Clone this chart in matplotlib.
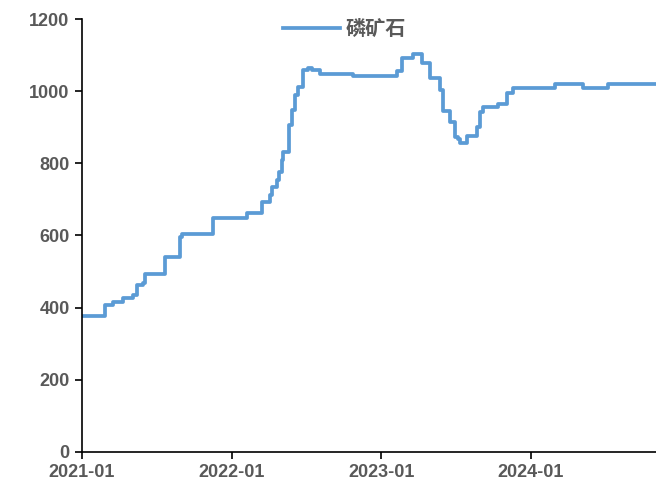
import pandas as pd
import matplotlib.pyplot as plt
import matplotlib.dates as mdates

plt.rcParams['font.family'] = ['Liberation Sans', 'DejaVu Sans']

# 磷矿石 price (yuan/t), step changes
dates = ['2021-01-01', '2021-02-26', '2021-03-17', '2021-04-11', '2021-05-05',
         '2021-05-15', '2021-05-30', '2021-06-04', '2021-07-22', '2021-08-28',
         '2021-09-02', '2021-11-16', '2022-02-07', '2022-03-16', '2022-04-04',
         '2022-04-09', '2022-04-21', '2022-04-26', '2022-05-04', '2022-05-06',
         '2022-05-21', '2022-05-28', '2022-06-04', '2022-06-12', '2022-06-24',
         '2022-07-06', '2022-07-16', '2022-08-04', '2022-10-24', '2023-02-08',
         '2023-02-20', '2023-03-19', '2023-04-10', '2023-04-29', '2023-05-24',
         '2023-05-31', '2023-06-17', '2023-06-29', '2023-07-07', '2023-07-12',
         '2023-07-29', '2023-08-22', '2023-08-29', '2023-09-06', '2023-10-12',
         '2023-11-03', '2023-11-18', '2024-02-28', '2024-05-07', '2024-07-07',
         '2024-11-01']
prices = [377, 407, 416, 426, 435,
          463, 468, 493, 540, 595,
          604, 648, 662, 692, 712,
          735, 753, 776, 809, 832,
          906, 948, 989, 1011, 1059,
          1065, 1059, 1048, 1043, 1057,
          1093, 1103, 1079, 1036, 1003,
          946, 915, 873, 867, 856,
          876, 902, 943, 957, 964,
          996, 1008, 1019, 1008, 1020,
          1020]

x = pd.to_datetime(dates)

fig = plt.figure(figsize=(6.56, 4.88), dpi=100)
ax = fig.add_axes([0.125, 0.074, 0.875, 0.887])

ax.plot(x, prices, color='#5B9BD5', linewidth=2.7, drawstyle='steps-post', label='磷矿石')

ax.set_ylim(0, 1200)
ax.set_yticks(range(0, 1201, 200))
ax.set_xlim(pd.Timestamp('2021-01-01'), pd.Timestamp('2024-11-01'))
ax.set_xticks(pd.to_datetime(['2021-01-01', '2022-01-01', '2023-01-01', '2024-01-01']))
ax.xaxis.set_major_formatter(mdates.DateFormatter('%Y-%m'))

for s in ['top', 'right']:
    ax.spines[s].set_visible(False)
ax.spines['left'].set_linewidth(1.2)
ax.spines['bottom'].set_linewidth(1.2)
ax.tick_params(axis='both', length=5, width=1.2, labelsize=13,
               labelcolor='#595959', pad=4)
for lbl in ax.get_xticklabels() + ax.get_yticklabels():
    lbl.set_fontweight('bold')

leg = ax.legend(loc='upper center', bbox_to_anchor=(0.458, 1.045), frameon=False,
                handlelength=2.8, handletextpad=0.3,
                prop={'family': ['Noto Sans CJK SC', 'DejaVu Sans'], 'size': 14.5,
                      'weight': 'bold', 'style': 'italic'})
for t in leg.get_texts():
    t.set_color('#595959')

fig.savefig('out.png', dpi=100)
